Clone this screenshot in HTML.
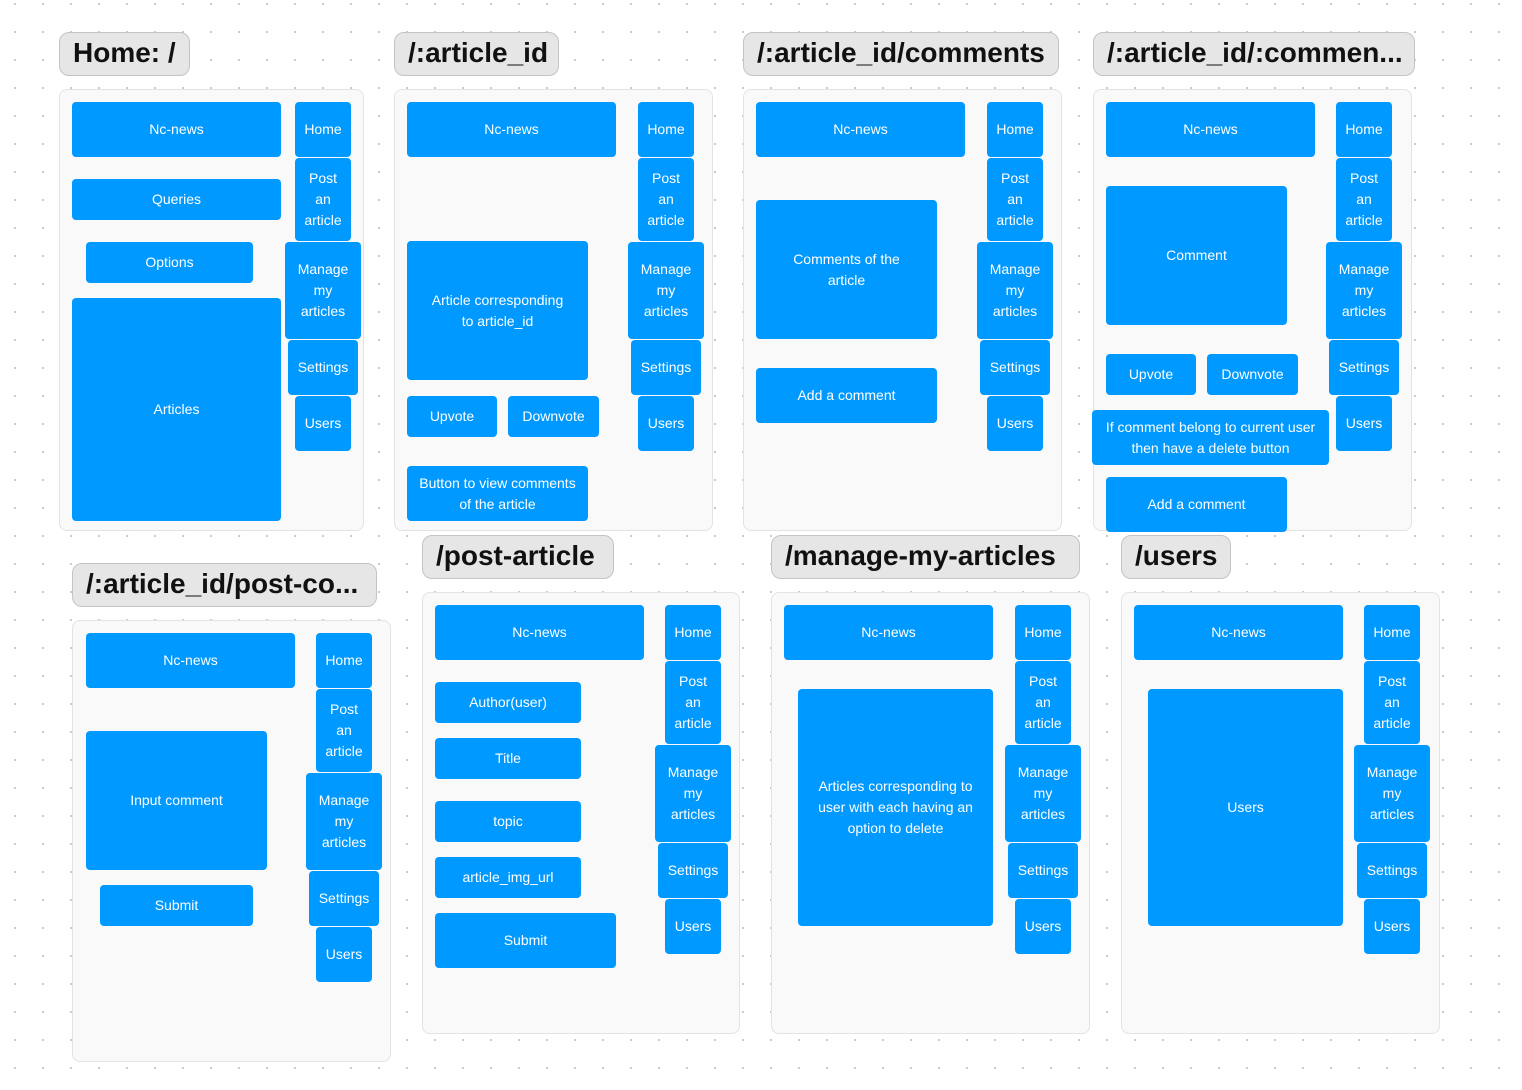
<!DOCTYPE html>
<html><head><meta charset="utf-8"><style>
body{margin:0;width:1522px;height:1090px;position:relative;overflow:hidden;background:#fff;
background-image:radial-gradient(circle,#c8c8c8 1px,transparent 1.3px);background-size:28px 28px;background-position:1px 18px;
font-family:"Liberation Sans",sans-serif}
.f{position:absolute;background:#f9f9f9;border:1.5px solid #e3e3e3;border-radius:8px;box-sizing:border-box}
.t{position:absolute;background:#e6e6e6;border:1.5px solid #c4c4c4;border-radius:10px;box-sizing:border-box;font-size:28px;font-weight:bold;color:#111;line-height:40px;padding-left:13px;white-space:nowrap;overflow:hidden}
.b{position:absolute;background:#0099ff;border-radius:4px;color:#fff;font-size:14px;line-height:21px;display:flex;align-items:center;justify-content:center;text-align:center;box-sizing:border-box}
</style></head><body>
<div id="r"></div>
<script>
var H='';
function t(x,y,w,s){H+='<div class="t" style="left:'+x+'px;top:'+y+'px;width:'+w+'px;height:44px">'+s+'</div>';}
function f(x,y,w,h){H+='<div class="f" style="left:'+x+'px;top:'+y+'px;width:'+w+'px;height:'+h+'px"></div>';}
function b(x1,y1,x2,y2,s){H+='<div class="b" style="left:'+x1+'px;top:'+y1+'px;width:'+(x2-x1)+'px;height:'+(y2-y1)+'px">'+s+'</div>';}
function sb(hx,ty){b(hx,ty,hx+56,ty+55,'Home');b(hx,ty+56,hx+56,ty+139,'Post<br>an<br>article');
b(hx-10,ty+140,hx+66,ty+237,'Manage<br>my<br>articles');b(hx-7,ty+238,hx+63,ty+293,'Settings');b(hx,ty+294,hx+56,ty+349,'Users');}
t(59,32,131,'Home: /');t(394,32,165,'/:article_id');t(743,32,316,'/:article_id/comments');t(1093,32,322,'/:article_id/:commen...');
t(72,563,305,'/:article_id/post-co...');t(422,535,192,'/post-article');t(771,535,309,'/manage-my-articles');t(1121,535,110,'/users');
f(59,89,305,442);f(394,89,319,442);f(743,89,319,442);f(1093,89,319,442);
f(72,620,319,442);f(422,592,318,442);f(771,592,319,442);f(1121,592,319,442);
sb(295,102);sb(638,102);sb(987,102);sb(1336,102);sb(316,633);sb(665,605);sb(1015,605);sb(1364,605);
b(72,102,281,157,'Nc-news');b(72,179,281,220,'Queries');b(86,242,253,283,'Options');b(72,298,281,521,'Articles');
b(407,102,616,157,'Nc-news');b(407,241,588,380,'Article corresponding<br>to article_id');b(407,396,497,437,'Upvote');b(508,396,599,437,'Downvote');b(407,466,588,521,'Button to view comments<br>of the article');
b(756,102,965,157,'Nc-news');b(756,200,937,339,'Comments of the<br>article');b(756,368,937,423,'Add a comment');
b(1106,102,1315,157,'Nc-news');b(1106,186,1287,325,'Comment');b(1106,354,1196,395,'Upvote');b(1207,354,1298,395,'Downvote');b(1092,410,1329,465,'If comment belong to current user<br>then have a delete button');b(1106,477,1287,532,'Add a comment');
b(86,633,295,688,'Nc-news');b(86,731,267,870,'Input comment');b(100,885,253,926,'Submit');
b(435,605,644,660,'Nc-news');b(435,682,581,723,'Author(user)');b(435,738,581,779,'Title');b(435,801,581,842,'topic');b(435,857,581,898,'article_img_url');b(435,913,616,968,'Submit');
b(784,605,993,660,'Nc-news');b(798,689,993,926,'Articles corresponding to<br>user with each having an<br>option to delete');
b(1134,605,1343,660,'Nc-news');b(1148,689,1343,926,'Users');
document.getElementById('r').innerHTML=H;
</script>
</body></html>
